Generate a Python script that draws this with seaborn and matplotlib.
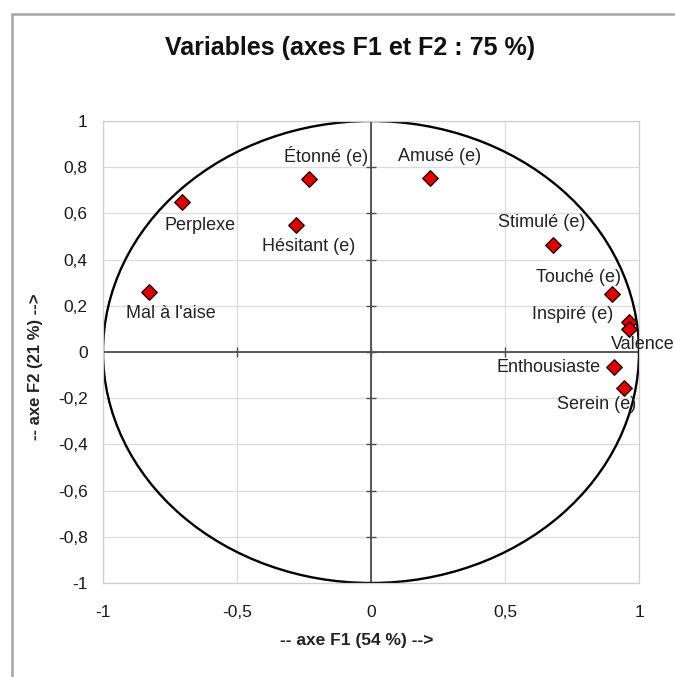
import matplotlib
matplotlib.use("Agg")
import matplotlib.pyplot as plt
from matplotlib.patches import Circle, Rectangle
import numpy as np
import pandas as pd
import seaborn as sns

# Variable coordinates on the first two factorial axes
variables = ["Étonné (e)", "Amusé (e)", "Perplexe", "Hésitant (e)", "Mal à l'aise",
             "Stimulé (e)", "Touché (e)", "Inspiré (e)", "Valence",
             "Enthousiaste", "Serein (e)"]
f1 = [-0.231, 0.220, -0.705, -0.280, -0.828, 0.680, 0.900, 0.963, 0.963, 0.907, 0.944]
f2 = [0.749, 0.755, 0.649, 0.550, 0.260, 0.463, 0.250, 0.130, 0.100, -0.065, -0.156]

x_ticks = [-1, -0.5, 0, 0.5, 1]
x_tick_labels = ["-1", "-0,5", "0", "0,5", "1"]
y_ticks = [-1, -0.8, -0.6, -0.4, -0.2, 0, 0.2, 0.4, 0.6, 0.8, 1]
y_tick_labels = ["-1", "-0,8", "-0,6", "-0,4", "-0,2", "0", "0,2", "0,4", "0,6", "0,8", "1"]

# Label placement around each marker, in pixels (dx right, dy up)
label_offsets = {
    "Étonné (e)": (17, 23), "Amusé (e)": (10, 21), "Perplexe": (18, -23),
    "Hésitant (e)": (13, -22), "Mal à l'aise": (22, -22), "Stimulé (e)": (-12, 23),
    "Touché (e)": (-34, 17), "Inspiré (e)": (-56, 7), "Valence": (14, -16),
    "Enthousiaste": (-66, 0), "Serein (e)": (-27, -16),
}

df = pd.DataFrame({"variable": variables, "F1": f1, "F2": f2})

sns.set_theme(style="white")
plt.rcParams["font.family"] = ["Liberation Sans", "DejaVu Sans"]

fig = plt.figure(figsize=(6.75, 6.77), dpi=100)
ax = fig.add_axes([103 / 675, 1 - 583 / 677, 536 / 675, 462 / 677])

# Outer chart frame
fig.patches.append(Rectangle((12 / 675, -0.1), 1.2, 0.979 + 0.1, transform=fig.transFigure,
                             fill=False, edgecolor="#a6a6a6", linewidth=1.8, zorder=0))

ax.set_xlim(-1, 1)
ax.set_ylim(-1, 1)
ax.set_xticks(x_ticks)
ax.set_xticklabels(x_tick_labels)
ax.set_yticks(y_ticks)
ax.set_yticklabels(y_tick_labels)
ax.tick_params(axis="both", length=0, labelsize=12.5, colors="#1a1a1a")
ax.tick_params(axis="x", pad=16)
ax.tick_params(axis="y", pad=11)

ax.grid(True, color="#dcdcdc", linewidth=0.9)
ax.set_axisbelow(True)
for sp in ax.spines.values():
    sp.set_color("#cfcfcf")
    sp.set_linewidth(0.9)

# Central axes with small crossing ticks
ax.axhline(0, color="#4d4d4d", linewidth=1.3, zorder=1)
ax.axvline(0, color="#4d4d4d", linewidth=1.3, zorder=1)
ax.plot(x_ticks[1:-1], [0] * 3, linestyle="none", marker="|", markersize=7,
        color="#4d4d4d", markeredgewidth=1.0, zorder=1)
ax.plot([0] * (len(y_ticks) - 2), y_ticks[1:-1], linestyle="none", marker="_", markersize=7,
        color="#4d4d4d", markeredgewidth=1.0, zorder=1)

# Correlation circle
ax.add_patch(Circle((0, 0), 1, fill=False, edgecolor="black", linewidth=1.7, zorder=2))

sns.scatterplot(data=df, x="F1", y="F2", marker="D", s=62, color="#dd0000",
                edgecolor="#2b0000", linewidth=1.0, ax=ax, zorder=3, legend=False)

for name, x, y in zip(df["variable"], df["F1"], df["F2"]):
    dx, dy = label_offsets[name]
    ax.annotate(name, (x, y), xytext=(dx, dy), textcoords="offset pixels",
                ha="center", va="center", fontsize=13, color="#222222",
                annotation_clip=False, zorder=4)

ax.set_xlabel("")
ax.set_ylabel("")
fig.text(357 / 675, 1 - 640 / 677, "-- axe F1 (54 %) -->", ha="center", va="center",
         fontsize=12.5, fontweight="bold", color="#222222")
fig.text(36 / 675, 1 - 367 / 677, "-- axe F2 (21 %) -->", ha="center", va="center",
         rotation=90, fontsize=12, fontweight="bold", color="#222222")
fig.text(350 / 675, 1 - 48 / 677, "Variables (axes F1 et F2 : 75 %)", ha="center",
         va="center", fontsize=18, fontweight="bold", color="#111111")

fig.savefig("out.png", dpi=100, facecolor="white")
